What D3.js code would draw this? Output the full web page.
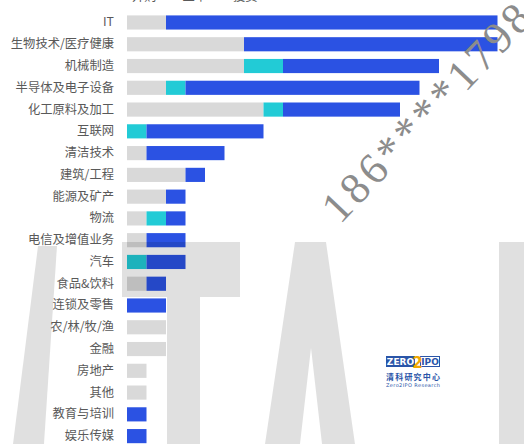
<!DOCTYPE html>
<html>
<head>
<meta charset="utf-8">
<script src="https://cdn.jsdelivr.net/npm/d3@7"></script>
<style>
  body { margin: 0; background: #fff; }
  svg { display: block; }
  .lab { font-family: "Noto Sans CJK SC", "Noto Sans", sans-serif; font-size: 12.3px; fill: #595959; }
</style>
</head>
<body>
<div id="wrapper"></div>
<script>
// categories, top to bottom
const categories = ["IT", "生物技术/医疗健康", "机械制造", "半导体及电子设备", "化工原料及加工",
  "互联网", "清洁技术", "建筑/工程", "能源及矿产", "物流", "电信及增值业务", "汽车",
  "食品&饮料", "连锁及零售", "农/林/牧/渔", "金融", "房地产", "其他", "教育与培训", "娱乐传媒"] ;

const seriesNames = ["并购", "上市", "投资"] ;
const binggou = [2, 6, 6, 2, 7, 0, 1, 3, 2, 1, 1, 0, 1, 0, 2, 2, 1, 1, 0, 0] ;
const shangshi = [0, 0, 2, 1, 1, 1, 0, 0, 0, 1, 0, 1, 0, 0, 0, 0, 0, 0, 0, 0] ;
const touzi = [17, 13, 8, 12, 6, 6, 4, 1, 1, 1, 2, 2, 1, 2, 0, 0, 0, 0, 1, 1] ;
const colors = ["#d9d9d9", "#22cbd6", "#2b52e3"] ;

let dimensions = {
  width: 524,
  height: 444,
  margin: {top: 11.6, right: 26.5, bottom: -3, left: 127},
} ;
dimensions.boundedWidth = dimensions.width - dimensions.margin.left - dimensions.margin.right ;
dimensions.boundedHeight = dimensions.height - dimensions.margin.top - dimensions.margin.bottom ;

const rows = categories.map((c, i) => ({cat: c, "并购": binggou[i], "上市": shangshi[i], "投资": touzi[i]})) ;
const stacked = d3.stack().keys(seriesNames)(rows) ;

const svg = d3.select("#wrapper").append("svg")
    .attr("width", dimensions.width)
    .attr("height", dimensions.height)
;
const bounds = svg.append("g")
    .attr("transform", `translate(${dimensions.margin.left}, ${dimensions.margin.top})`)
;

const xScale = d3.scaleLinear()
  .domain([0, 19])
  .range([0, dimensions.boundedWidth])
;
const yScale = d3.scaleBand()
  .domain(categories)
  .range([0, dimensions.boundedHeight])
  .paddingInner(0.35)
  .paddingOuter(0.175)
;

// bars
bounds.selectAll("g.series")
  .data(stacked)
  .enter().append("g")
    .attr("class", "series")
    .attr("fill", (d, i) => colors[i])
  .selectAll("rect")
  .data(d => d.filter(s => s[1] > s[0]))
  .enter().append("rect")
    .attr("x", d => xScale(d[0]))
    .attr("y", d => yScale(d.data.cat))
    .attr("width", d => xScale(d[1]) - xScale(d[0]))
    .attr("height", yScale.bandwidth())
;

// category axis (labels only)
const yAxis = bounds.append("g")
  .call(d3.axisLeft(yScale).tickSize(0).tickPadding(13))
;
yAxis.select(".domain").remove() ;
yAxis.selectAll("text").attr("class", "lab").attr("fill", null) ;

// legend, cut off at the top edge as in the source image
const legend = svg.append("g") ;
seriesNames.forEach((name, i) => {
  const lx = 113 + i * 50.5 ;
  legend.append("rect").attr("x", lx).attr("y", -11).attr("width", 14).attr("height", 8).attr("fill", colors[i]) ;
  legend.append("text").attr("class", "lab").attr("x", lx + 19).attr("y", 1).text(name) ;
}) ;

// big faint watermark letters
const wm = svg.append("g").attr("fill", "#000").attr("fill-opacity", 0.12) ;
const wmShapes = [
  "M38,246 L57,246 L44,444 L13,444 Z",
  "M122,242 L240,242 L240,297 L200,297 L200,444 L167,444 L167,297 L122,297 Z",
  "M295,242 L326,242 L355,444 L322,444 L311,348 L300,444 L265,444 Z",
  "M499,242 L524,242 L524,444 L499,444 Z",
] ;
wm.selectAll("path").data(wmShapes).enter().append("path").attr("d", d => d) ;

// logo
const logo = svg.append("g").attr("transform", "translate(386, 356)") ;
logo.append("rect").attr("width", 29).attr("height", 11).attr("fill", "#2a55a8") ;
logo.append("text").attr("x", 14.5).attr("y", 9).attr("text-anchor", "middle")
  .style("font", "bold 9px 'DejaVu Sans'").attr("fill", "#fff").text("ZERO") ;
logo.append("rect").attr("x", 34.5).attr("y", 0.5).attr("width", 19).attr("height", 10)
  .attr("fill", "#fff").attr("stroke", "#2a55a8") ;
logo.append("text").attr("x", 44).attr("y", 9).attr("text-anchor", "middle")
  .style("font", "bold 9px 'DejaVu Sans'").attr("fill", "#2a55a8").text("IPO") ;
logo.append("text").attr("x", 31.5).attr("y", 12).attr("text-anchor", "middle")
  .style("font", "bold 15px 'DejaVu Sans'").attr("fill", "#f2a900").text("2") ;
logo.append("text").attr("x", 0).attr("y", 24).attr("textLength", 54)
  .style("font", "bold 8px 'Noto Sans CJK SC'").attr("fill", "#2a55a8").text("清科研究中心") ;
logo.append("text").attr("x", 0).attr("y", 31).attr("textLength", 54)
  .style("font", "5px 'DejaVu Sans'").attr("fill", "#2a55a8").text("Zero2IPO Research") ;

// phone number watermark
svg.append("text")
  .attr("transform", "translate(340, 225) rotate(-46.5)")
  .style("font-family", "'Liberation Serif', serif")
  .style("font-size", "44px")
  .style("letter-spacing", "4px")
  .attr("fill", "#8c8c8c")
  .text("186****1798") ;
</script>
</body>
</html>
